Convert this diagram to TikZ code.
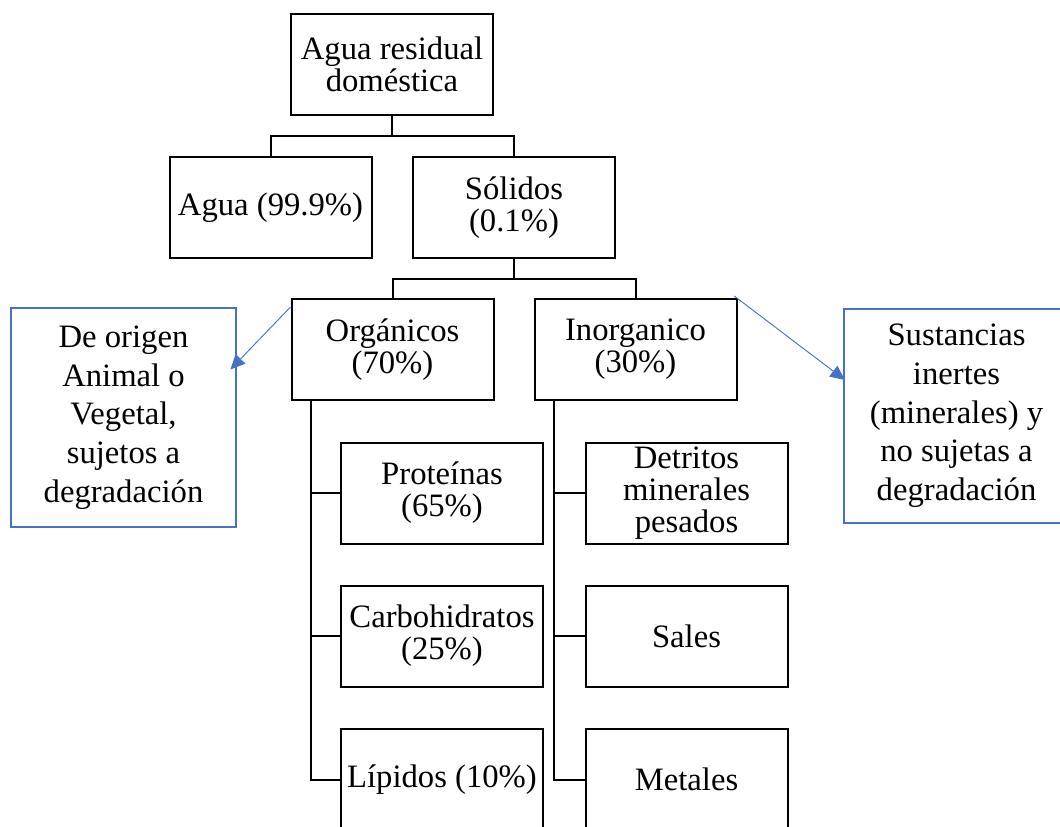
\documentclass[tikz,border=0pt]{standalone}
\usepackage{fontspec}
\setmainfont{Liberation Serif}
\usetikzlibrary{arrows.meta}
\definecolor{wordblue}{HTML}{4472C4}
\tikzset{
	box/.style={draw, line width=1.5pt, minimum width=151.5pt, minimum height=75.75pt, inner sep=0pt, align=center, font=\fontsize{24.5pt}{24pt}\selectfont},
	note/.style={draw=wordblue, line width=1.6pt, minimum width=168.75pt, inner sep=0pt, align=center, font=\fontsize{24.5pt}{29pt}\selectfont},
	link/.style={line width=1.5pt},
	pointer/.style={wordblue, line width=0.7pt, -{Triangle[length=11pt,width=10pt]}}
}

\begin{document}
\begin{tikzpicture}[x=0.75pt, y=-0.75pt]
			%%%%% START %%%%%
			\useasboundingbox (0, 0) rectangle (1060, 827);
			\clip (0, 0) rectangle (1060, 827);
			
			\node[box] (residual) at (392, 64.5) {Agua residual\\doméstica};
			
			\node[box] (agua) at (270.5, 207.5) {Agua (99.9\%)};
			\node[box] (solidos) at (514, 207.5) {Sólidos\\(0.1\%)};
			
			\node[box] (organicos) at (392.5, 349.5) {Orgánicos\\(70\%)};
			\node[box] (inorganico) at (635.5, 349.5) {Inorganico\\(30\%)};
			
			\node[box] (proteinas) at (442, 493) {Proteínas\\(65\%)};
			\node[box] (carbohidratos) at (442, 636) {Carbohidratos\\(25\%)};
			\node[box] (lipidos) at (442, 779.5) {Lípidos (10\%)};
			
			\node[box] (detritos) at (686.5, 493) {Detritos\\minerales\\pesados};
			\node[box] (sales) at (686.5, 636) {Sales};
			\node[box] (metales) at (686.5, 779.5) {Metales};
			
			\node[note, minimum height=164.25pt] (vegetal) at (123.5, 417.5) {De origen\\Animal o\\Vegetal,\\sujetos a\\degradación};
			\node[note, minimum height=160.5pt] (inertes) at (956.5, 416) {Sustancias\\inertes\\(minerales) y\\no sujetas a\\degradación};
			
			% tree
			\draw[link] (residual.south) -- ++(0, 20) -| (agua.north);
			\draw[link] (residual.south) ++(0, 20) -| (solidos.north);
			\draw[link] (solidos.south) -- ++(0, 20) -| (organicos.north);
			\draw[link] (solidos.south) ++(0, 20) -| (inorganico.north);
			
			\draw[link] ([xshift=15pt]organicos.south west) |- (proteinas.west);
			\draw[link] ([xshift=15pt]organicos.south west) |- (carbohidratos.west);
			\draw[link] ([xshift=15pt]organicos.south west) |- (lipidos.west);
			
			\draw[link] ([xshift=15pt]inorganico.south west) |- (detritos.west);
			\draw[link] ([xshift=15pt]inorganico.south west) |- (sales.west);
			\draw[link] ([xshift=15pt]inorganico.south west) |- (metales.west);
			
			% notes
			\draw[pointer] ([yshift=-6.75pt]organicos.north west) -- ([xshift=-5pt, yshift=36pt]vegetal.east);
			\draw[pointer] ([xshift=-2.5pt, yshift=1.5pt]inorganico.north east) -- ([xshift=1.5pt, yshift=27pt]inertes.west);
			
			%%%%% END %%%%%
		\end{tikzpicture}
\end{document}
